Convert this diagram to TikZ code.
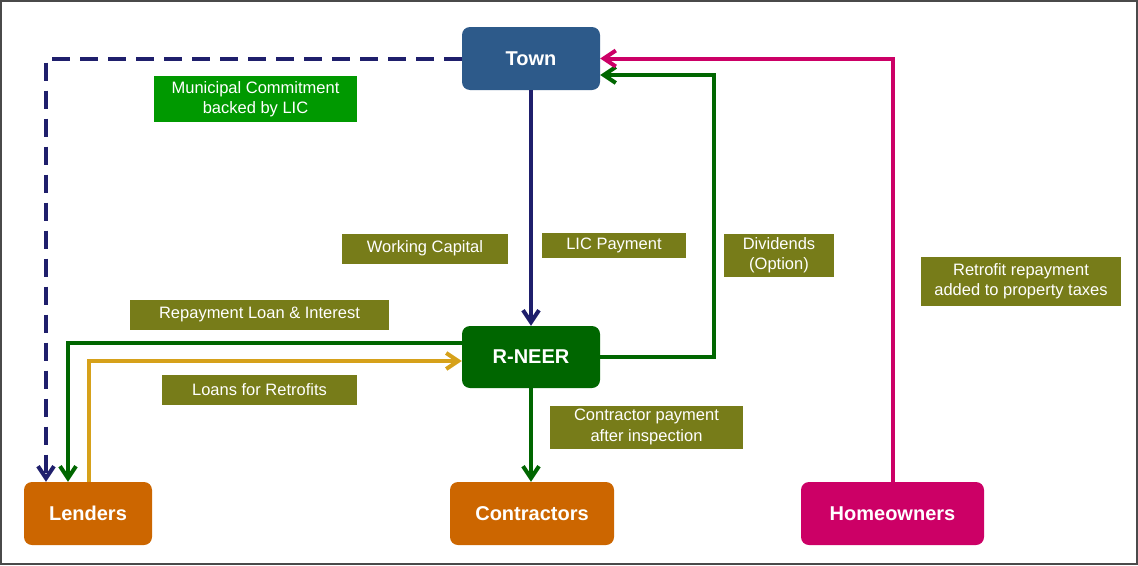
\documentclass[tikz,border=0pt]{standalone}
\usepackage{fontspec}
\setmainfont{Liberation Sans}
\usetikzlibrary{arrows.meta,calc}
\definecolor{townblue}{HTML}{2D5A8A}
\definecolor{rgreen}{HTML}{006600}
\definecolor{partyorange}{HTML}{CC6600}
\definecolor{homepink}{HTML}{CC0066}
\definecolor{tagolive}{HTML}{777C19}
\definecolor{tagbright}{HTML}{009900}
\definecolor{navyflow}{HTML}{1F1F6C}
\definecolor{goldflow}{HTML}{D6A11A}
\definecolor{framegray}{HTML}{4A4A4A}

\tikzset{
  party/.style={rounded corners=8pt,text=white,inner sep=0pt,minimum height=63pt,
    font=\fontsize{20}{22}\selectfont\bfseries},
  tag/.style={fill=tagolive,text=white,align=center,inner sep=0pt,
    font=\fontsize{16.5}{20.5}\selectfont},
  flow/.style={line width=4pt,-{Straight Barb[length=12pt,width=16pt]}},
}

\begin{document}
\begin{tikzpicture}[x=1pt,y=-1pt]
  \useasboundingbox (0,0) rectangle (1138,565);
  \draw[framegray,line width=2pt] (1,1) rectangle (1137,564);

  % parties
  \node[party,fill=townblue,minimum width=138pt] (town) at (531,58.5) {Town};
  \node[party,fill=rgreen,minimum width=138pt,minimum height=62pt] (rneer) at (531,357) {R-NEER};
  \node[party,fill=partyorange,minimum width=128pt] (lenders) at (88,513.5) {Lenders};
  \node[party,fill=partyorange,minimum width=164pt] (contractors) at (532,513.5) {Contractors};
  \node[party,fill=homepink,minimum width=183pt] (homeowners) at (892.5,513.5) {Homeowners};

  % tags
  \node[tag,fill=tagbright,minimum width=203pt,minimum height=46pt] (muni) at (255.5,99) {Municipal Commitment\\backed by LIC};
  \node[tag,minimum width=166pt,minimum height=30pt] (workcap) at (425,248.5) {Working Capital};
  \node[tag,minimum width=144pt,minimum height=25pt] (licpay) at (614,245) {LIC Payment};
  \node[tag,minimum width=110pt,minimum height=43pt] (divid) at (779,255) {Dividends\\(Option)};
  \node[tag,minimum width=200pt,minimum height=49pt] (retro) at (1021,281) {Retrofit repayment\\added to property taxes};
  \node[tag,minimum width=259pt,minimum height=30pt] (repay) at (259.5,314.5) {Repayment Loan \& Interest};
  \node[tag,minimum width=195pt,minimum height=30pt] (loans) at (259.5,389.5) {Loans for Retrofits};
  \node[tag,minimum width=193pt,minimum height=43pt] (contpay) at (646.5,427) {Contractor payment\\after inspection};

  % flows
  \draw[flow,navyflow,dash pattern=on 18pt off 10pt] (town.west) -| ($(lenders.north)+(-42,0)$);
  \draw[flow,navyflow] (town) -- (rneer);
  \draw[flow,rgreen] (rneer.east) -- ($(rneer.east)+(114,0)$) |- ($(town.east)+(0,16.5)$);
  \draw[flow,homepink] (homeowners.north) |- (town.east);
  \draw[flow,rgreen] ($(rneer.west)+(0,-14)$) -| ($(lenders.north)+(-20,0)$);
  \draw[flow,goldflow] ($(lenders.north)+(1,0)$) |- ($(rneer.west)+(0,4)$);
  \draw[flow,rgreen] (rneer) -- (contractors.north -| rneer);
\end{tikzpicture}
\end{document}
